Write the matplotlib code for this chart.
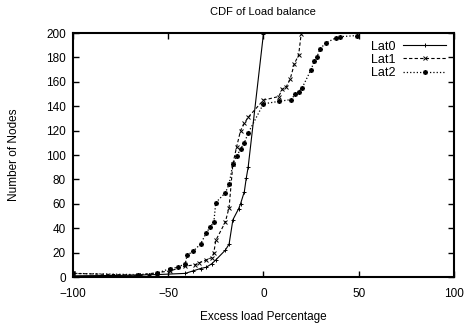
import numpy as np
from matplotlib import pyplot as plt

plt.rcParams['font.family'] = ['Liberation Sans', 'DejaVu Sans']

lat0_x = [-100, -65, -60, -56, -41, -37, -33, -30, -27, -25, -20, -18, -16, -13, -12, -10, -9, -8, 0]
lat0_y = [1, 1.5, 2, 2, 3, 5, 7, 8, 11, 14, 22, 27, 47, 56, 60, 70, 81, 90, 199]

lat1_x = [-100, -66, -49, -41, -36, -34, -30, -27, -26, -25, -20, -18, -16, -14, -12, -10, -8,
          0, 8, 10, 12, 14, 16.3, 18.5, 19.8]
lat1_y = [3, 1.5, 5, 9, 10, 11.5, 14, 16, 20, 30, 45, 57, 93, 107, 120, 126, 131,
          145, 148, 154, 156, 162, 175, 182, 199]

lat2_x = [-100, -66, -56, -49, -45, -41, -40, -37, -33, -30, -28, -26, -25, -20, -18, -16, -14,
          -12, -10, -8, 0, 8, 14.5, 16.8, 18.5, 20.3, 25, 26.7, 28, 29.7, 32.8, 38, 40, 49]
lat2_y = [3, 2, 3, 7, 8, 11, 18, 21, 27, 36, 41, 45, 61, 69, 76, 93, 99,
          105, 110, 118, 142, 144, 145.5, 150, 152, 155, 170, 177, 180, 187, 192, 196, 197, 198]

fig = plt.figure(figsize=(4.67, 3.31), dpi=100)
ax = fig.add_axes([0.156, 0.163, 0.816, 0.737])

ax.plot(lat0_x, lat0_y, '-', color='black', lw=0.8, marker='+', ms=3.5, mew=0.7, label='Lat0')
ax.plot(lat1_x, lat1_y, '--', color='black', lw=0.8, dashes=(3, 2), marker='x', ms=3, mew=0.7, label='Lat1')
ax.plot(lat2_x, lat2_y, ':', color='black', lw=0.9, marker=(8, 2, 0), ms=3.5, mew=0.8, label='Lat2')

ax.set_xlim(-100, 100)
ax.set_ylim(0, 200)
ax.set_xticks([-100, -50, 0, 50, 100])
ax.set_yticks(np.arange(0, 201, 20))
ax.tick_params(direction='in', top=True, right=True, labelsize=8.5, length=4, width=1)
ax.tick_params(axis='x', pad=8)
ax.tick_params(axis='y', pad=5)
for s in ax.spines.values():
    s.set_linewidth(1.5)

ax.set_title('CDF of Load balance', fontsize=8, pad=13)
ax.set_xlabel('Excess load Percentage', fontsize=8.5, labelpad=8)
ax.set_ylabel('Number of Nodes', fontsize=8.5, labelpad=19)

ax.legend(loc='upper right', frameon=False, markerfirst=False, fontsize=9,
          handlelength=3.5, borderaxespad=0.2, labelspacing=0.1, handletextpad=0.6)

fig.savefig('out.png', dpi=100)
